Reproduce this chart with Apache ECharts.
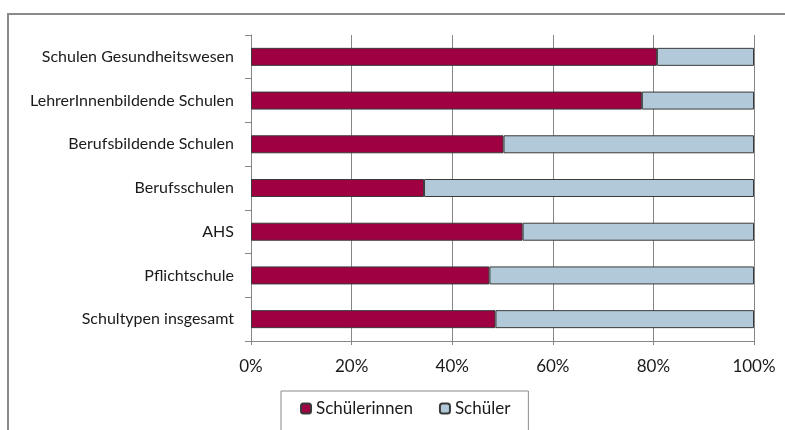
<!DOCTYPE html>
<html>
<head>
<meta charset="utf-8">
<script src="https://cdn.jsdelivr.net/npm/echarts@6/dist/echarts.min.js"></script>
<style>
html,body{margin:0;padding:0;background:#fff;}
#main{width:785px;height:430px;}
</style>
</head>
<body>
<div id="main"></div>
<script>
// Schultypen, von oben nach unten
var schultypen = ['Schulen Gesundheitswesen', 'LehrerInnenbildende Schulen', 'Berufsbildende Schulen', 'Berufsschulen', 'AHS', 'Pflichtschule', 'Schultypen insgesamt'];
var schuelerinnen = [80.7, 77.7, 50.2, 34.4, 54.0, 47.4, 48.6];
var schueler = [19.3, 22.3, 49.8, 65.6, 46.0, 52.6, 51.4];
var prozentTicks = [0, 20, 40, 60, 80, 100];

var myChart = echarts.init(document.getElementById('main'));
var schrift = 'Lato';
var option = {
	backgroundColor: '#fff',
	animation: false,
	graphic: [{
		type: 'rect',
		shape: { x: 8, y: 14, width: 800, height: 500 },
		style: { fill: 'none', stroke: '#8a8a8a', lineWidth: 2 }
	}],
	legend: {
		left: 281,
		top: 391,
		itemWidth: 10,
		itemHeight: 10,
		itemGap: 26,
		padding: [9, 18, 30, 19],
		borderColor: '#8a8a8a',
		borderWidth: 1,
		textStyle: { fontFamily: schrift, fontSize: 17, color: '#1a1a1a' },
		data: ['Schülerinnen', 'Schüler']
	},
	grid: {
		left: 251,
		right: 31,
		top: 35,
		bottom: 89,
		containLabel: false
	},
	xAxis: {
		type: 'value',
		min: prozentTicks[0],
		max: prozentTicks[prozentTicks.length - 1],
		interval: 20,
		axisLine: { show: true, lineStyle: { color: '#868686' } },
		axisTick: { show: true, length: 4, lineStyle: { color: '#868686' } },
		splitLine: { show: true, lineStyle: { color: '#868686' } },
		axisLabel: {
			fontFamily: schrift,
			fontSize: 17,
			color: '#1a1a1a',
			margin: 17,
			formatter: '{value}%'
		}
	},
	yAxis: {
		type: 'category',
		inverse: true,
		data: schultypen,
		axisLine: { show: true, lineStyle: { color: '#868686' } },
		axisTick: { show: true, length: 6, lineStyle: { color: '#868686' } },
		axisLabel: {
			fontFamily: schrift,
			fontSize: 16,
			color: '#1a1a1a',
			margin: 17
		}
	},
	series: [{
		name: 'Schülerinnen',
		type: 'bar',
		stack: 'gesamt',
		barWidth: 18,
		itemStyle: { color: '#9e0042', borderColor: '#3a3a3a', borderWidth: 1 },
		data: schuelerinnen
	}, {
		name: 'Schüler',
		type: 'bar',
		stack: 'gesamt',
		barWidth: 18,
		itemStyle: { color: '#b1c9d8', borderColor: '#3a3a3a', borderWidth: 1 },
		data: schueler
	}]
};
myChart.setOption(option);
</script>
</body>
</html>
